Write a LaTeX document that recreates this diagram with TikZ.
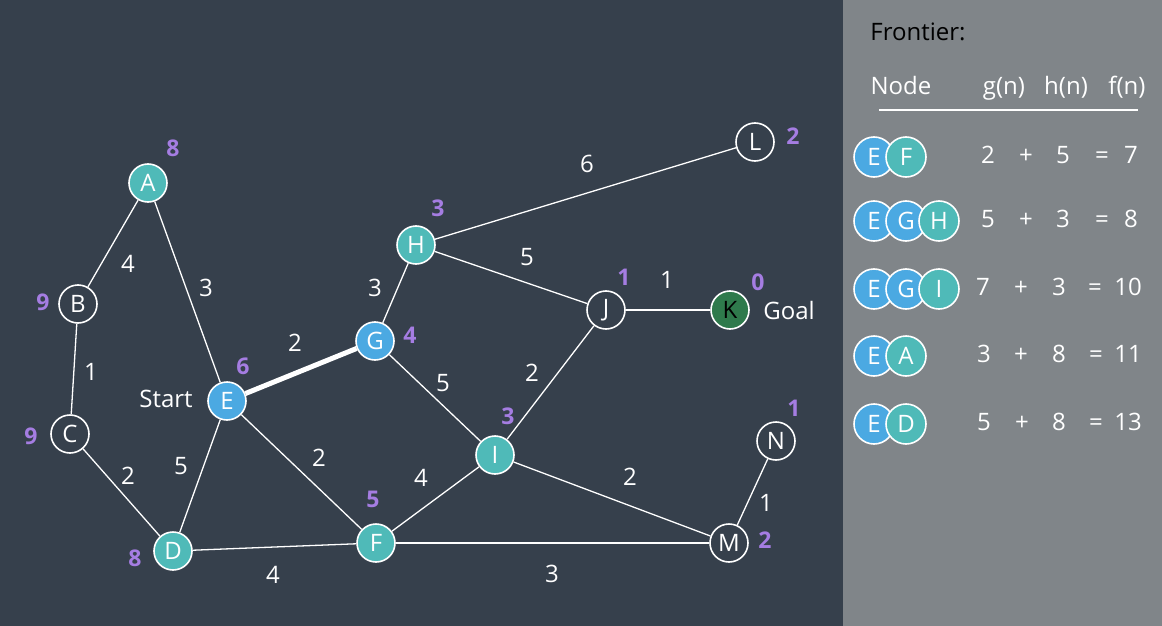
\documentclass[tikz,border=0pt]{standalone}
\usepackage{fontspec}
\setmainfont{Open Sans}
\definecolor{bg}{HTML}{36404C}
\definecolor{panel}{HTML}{808589}
\definecolor{nblue}{HTML}{4BA9E2}
\definecolor{nteal}{HTML}{4FBAB8}
\definecolor{ngreen}{HTML}{2F7A4C}
\definecolor{hpurple}{HTML}{A57DE2}
\begin{document}
\begin{tikzpicture}[x=1pt,y=-1pt,
  every node/.style={font=\fontsize{24}{26}\selectfont},
  gnode/.style={circle,draw=white,line width=1.6pt,minimum size=38pt,inner sep=0pt,text=white,fill=bg},
  blue/.style={gnode,fill=nblue},
  teal/.style={gnode,fill=nteal},
  goalnode/.style={gnode,fill=ngreen,text=black},
  edge/.style={white,line width=1.3pt},
  wlbl/.style={text=white},
  cell/.style={text=white,text height=17pt,text depth=5pt,inner sep=0pt},
  hl/.style={text=hpurple,font=\fontsize{23}{25}\selectfont\bfseries},
  pnode/.style={circle,draw=white,line width=1.6pt,minimum size=40pt,inner sep=0pt,text=white}
]
\fill[bg] (0,0) rectangle (1162,626);
\fill[panel] (843,0) rectangle (1162,626);
\useasboundingbox (0,0) rectangle (1162,626);

% nodes
\node[teal] (A) at (148,183) {A};
\node[gnode] (B) at (78,304) {B};
\node[gnode] (C) at (70,434) {C};
\node[teal] (D) at (173,551) {D};
\node[blue] (E) at (227,401) {E};
\node[teal] (F) at (376,543) {F};
\node[blue] (G) at (375,341) {G};
\node[teal] (H) at (416,245) {H};
\node[teal] (I) at (495,455) {I};
\node[gnode] (J) at (606,310) {J};
\node[goalnode] (K) at (730,310) {K};
\node[gnode] (L) at (755,142) {L};
\node[gnode] (M) at (729,543) {M};
\node[gnode] (N) at (776,441) {N};

% edges
\draw[edge] (A) -- (B);
\draw[edge] (A) -- (E);
\draw[edge] (B) -- (C);
\draw[edge] (C) -- (D);
\draw[edge] (E) -- (D);
\draw[white,line width=5pt] (E) -- (G);
\draw[edge] (E) -- (F);
\draw[edge] (D) -- (F);
\draw[edge] (G) -- (H);
\draw[edge] (G) -- (I);
\draw[edge] (H) -- (L);
\draw[edge] (H) -- (J);
\draw[edge] (I) -- (J);
\draw[edge] (J) -- (K);
\draw[edge] (F) -- (I);
\draw[edge] (I) -- (M);
\draw[edge] (F) -- (M);
\draw[edge] (M) -- (N);

% edge labels
\node[wlbl] (wAB) at (128,264) {4};
\node[wlbl] (wAE) at (206,288) {3};
\node[wlbl] (wBC) at (91,372) {1};
\node[wlbl] (wCD) at (128,476) {2};
\node[wlbl] (wED) at (181,466) {5};
\node[wlbl] (wEG) at (295,343) {2};
\node[wlbl] (wEF) at (319,458) {2};
\node[wlbl] (wDF) at (273,575) {4};
\node[wlbl] (wGH) at (375,288) {3};
\node[wlbl] (wGI) at (443,383) {5};
\node[wlbl] (wHL) at (587,164) {6};
\node[wlbl] (wHJ) at (527,257) {5};
\node[wlbl] (wIJ) at (532,373) {2};
\node[wlbl] (wJK) at (667,280) {1};
\node[wlbl] (wFI) at (421,478) {4};
\node[wlbl] (wIM) at (630,477) {2};
\node[wlbl] (wFM) at (552,574) {3};
\node[wlbl] (wMN) at (766,503) {1};

% heuristics
\node[hl] (hA) at (173,148) {8};
\node[hl] (hB) at (43,302) {9};
\node[hl] (hC) at (31,436) {9};
\node[hl] (hD) at (135,558) {8};
\node[hl] (hE) at (243,366) {6};
\node[hl] (hF) at (373,499) {5};
\node[hl] (hG) at (410,335) {4};
\node[hl] (hH) at (438,208) {3};
\node[hl] (hI) at (508,416) {3};
\node[hl] (hJ) at (624,277) {1};
\node[hl] (hK) at (758,282) {0};
\node[hl] (hL) at (793,136) {2};
\node[hl] (hM) at (765,540) {2};
\node[hl] (hN) at (794,408) {1};

\node[wlbl] (start) at (166,399) {Start};
\node[wlbl] (goal) at (789,310) {Goal};

% panel
\node[text=black] (fr) at (918,32) {Frontier:};
\node[cell] (hdN) at (901,88) {Node};
\node[cell] (hdg) at (1004,88) {g(n)};
\node[cell] (hdh) at (1066,88) {h(n)};
\node[cell] (hdf) at (1127,88) {f(n)};
\coordinate (ul) at (879,110);
\coordinate (ur) at (1138,110);
\draw[white,line width=1.3pt] (ul) -- (ur);

% row 1
\node[pnode,fill=nblue] (r1a) at (874,157) {E};
\node[pnode,fill=nteal] (r1b) at (906,157) {F};
\node[cell] at (988,157) {2};\node[cell] at (1026,157) {+};\node[cell] at (1063,157) {5};\node[cell] at (1102,157) {=};\node[cell] at (1131,157) {7};
% row 2
\node[pnode,fill=nblue] (r2a) at (874,221) {E};
\node[pnode,fill=nblue] (r2b) at (906,221) {G};
\node[pnode,fill=nteal] (r2c) at (939,221) {H};
\node[cell] at (988,221) {5};\node[cell] at (1026,221) {+};\node[cell] at (1063,221) {3};\node[cell] at (1102,221) {=};\node[cell] at (1131,221) {8};
% row 3
\node[pnode,fill=nblue] (r3a) at (874,289) {E};
\node[pnode,fill=nblue] (r3b) at (906,289) {G};
\node[pnode,fill=nteal] (r3c) at (939,289) {I};
\node[cell] at (983,289) {7};\node[cell] at (1021,289) {+};\node[cell] at (1059,289) {3};\node[cell] at (1095,289) {=};\node[cell] at (1128,289) {10};
% row 4
\node[pnode,fill=nblue] (r4a) at (874,356) {E};
\node[pnode,fill=nteal] (r4b) at (906,356) {A};
\node[cell] at (984,356) {3};\node[cell] at (1021,356) {+};\node[cell] at (1059,356) {8};\node[cell] at (1096,356) {=};\node[cell] at (1128,356) {11};
% row 5
\node[pnode,fill=nblue] (r5a) at (874,424) {E};
\node[pnode,fill=nteal] (r5b) at (906,424) {D};
\node[cell] at (984,424) {5};\node[cell] at (1022,424) {+};\node[cell] at (1059,424) {8};\node[cell] at (1096,424) {=};\node[cell] at (1128,424) {13};
\end{tikzpicture}
\end{document}
